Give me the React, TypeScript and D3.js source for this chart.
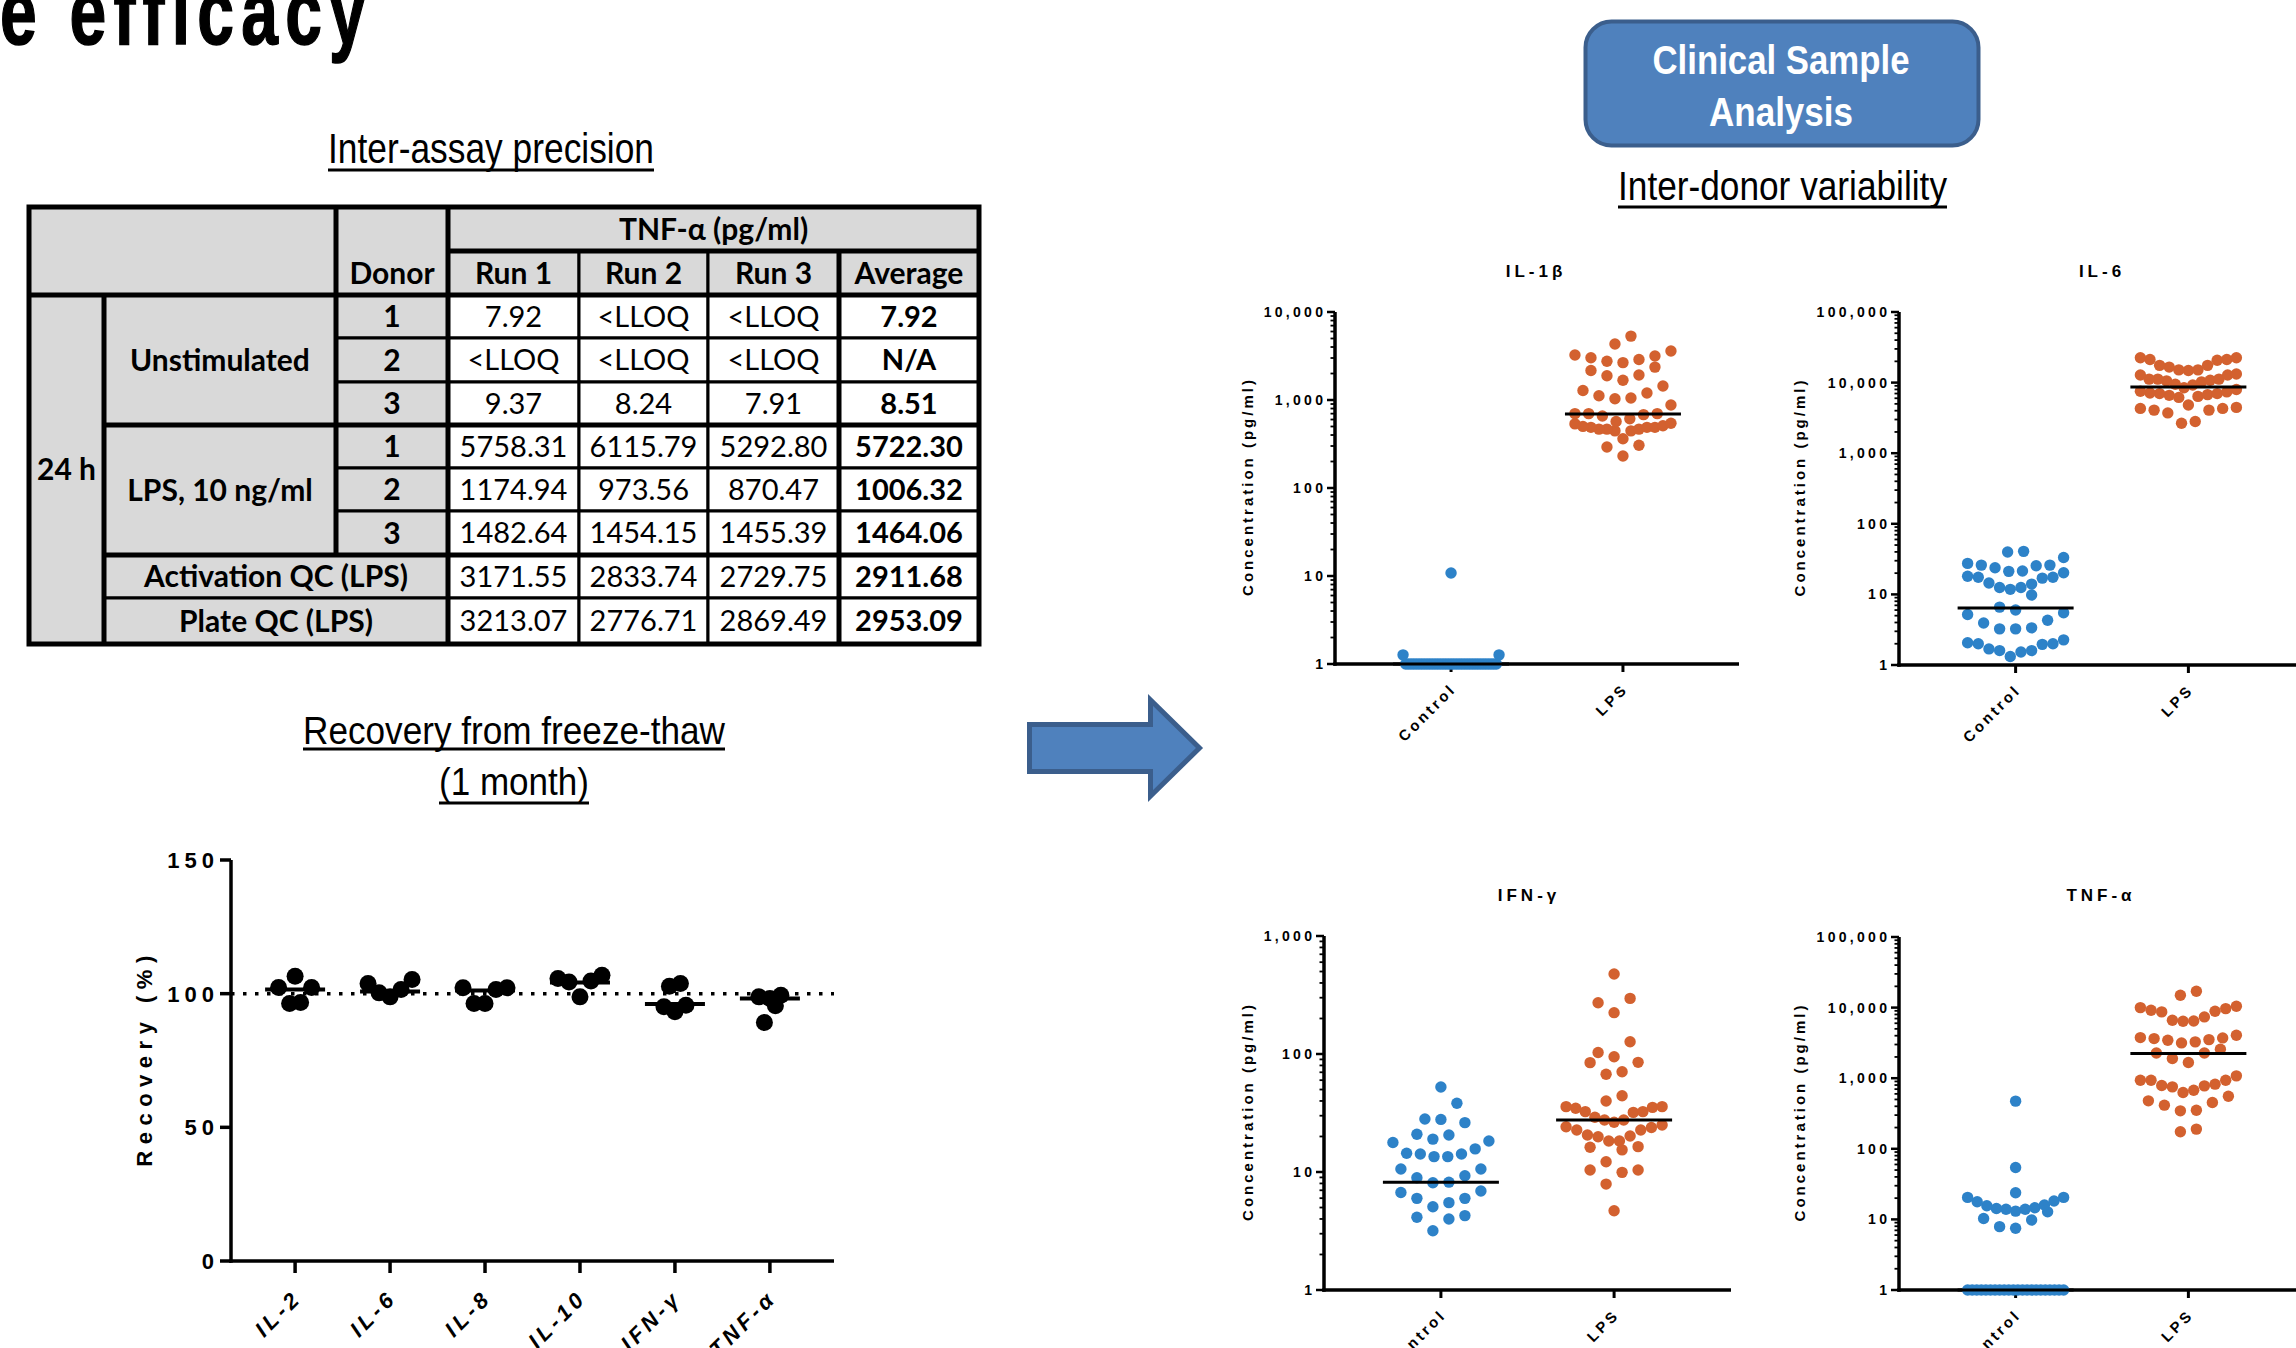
import React from 'react';
import * as d3 from 'd3';

// ---------- Inter-assay precision table ----------
const runHeaders = ['Run 1', 'Run 2', 'Run 3', 'Average'];
const unstimRows = [
  ['1', '7.92', '<LLOQ', '<LLOQ', '7.92'],
  ['2', '<LLOQ', '<LLOQ', '<LLOQ', 'N/A'],
  ['3', '9.37', '8.24', '7.91', '8.51'],
];
const lpsRows = [
  ['1', '5758.31', '6115.79', '5292.80', '5722.30'],
  ['2', '1174.94', '973.56', '870.47', '1006.32'],
  ['3', '1482.64', '1454.15', '1455.39', '1464.06'],
];
const qcRows = [
  ['Activation QC (LPS)', '3171.55', '2833.74', '2729.75', '2911.68'],
  ['Plate QC (LPS)', '3213.07', '2776.71', '2869.49', '2953.09'],
];

// ---------- Recovery from freeze-thaw ----------
const recoveryCytokines = ['IL-2', 'IL-6', 'IL-8', 'IL-10', 'IFN-γ', 'TNF-α'];
const recoveryValues = [
  [106.5, 102.3, 102.3, 96.3, 96.7],
  [105.3, 101.6, 98.8, 100.3, 103.8],
  [102.2, 101.6, 96.3, 96.3, 102.2],
  [106.9, 104.7, 98.8, 104.4, 105.7],
  [103.8, 102.8, 95.7, 93.2, 95.1],
  [98.2, 99.4, 89.2, 98.8, 95.5],
];
const recoveryMedians = [101.6, 100.8, 101.2, 104.2, 96.1, 98.2];
const recoveryTicks = [0, 50, 100, 150];

// ---------- Inter-donor variability ----------
const groups = ['Control', 'LPS'];

const il1bControl = [10.8, 1.27, 1.27,
  1, 1, 1, 1, 1, 1, 1, 1, 1, 1, 1, 1, 1, 1, 1, 1, 1, 1, 1, 1, 1, 1, 1, 1, 1, 1, 1, 1, 1, 1, 1, 1, 1, 1, 1];
const il1bLps = [5320, 4325, 3610, 3157, 2884, 2660, 2755, 3016, 3242, 2365, 2162, 1889, 1923, 1679, 1442,
  1282, 1119, 1032, 1052, 1203, 877, 700, 658, 700, 700, 569, 612, 682, 535, 501, 489, 467, 467, 446, 363,
  446, 467, 489, 489, 510, 544, 306, 292, 231];
const il1bMedians = [1, 694];

const il6Control = [40.7, 39.8, 33.3, 27.5, 26, 26, 25.4, 23.8, 21.5, 21.2, 20.3, 18.1, 17.5, 17.5, 17, 14.5,
  14.0, 12.5, 12.5, 11.8, 9.8, 6.6, 6.0, 5.5, 5.2, 4.3, 3.94, 3.36, 3.25, 3.25, 2.27, 2.07, 2.0, 2.0, 1.96,
  1.69, 1.6, 1.6, 1.53, 1.32];
const il6Lps = [22440, 21230, 17540, 16590, 15150, 14830, 15150, 17540, 20760, 21230, 22440, 12800, 11190,
  11190, 10570, 9460, 8450, 9250, 10230, 10820, 11190, 12800, 13250, 7550, 7380, 6990, 6600, 6170, 6380,
  6750, 6990, 7140, 7980, 4820, 4310, 4075, 3720, 2657, 2810, 4075, 4310, 4455];
const il6Medians = [6.4, 8650];

const ifngControl = [52.5, 38.2, 27.9, 26.2, 28.1, 20.9, 19.0, 20.6, 18.3, 17.8, 15.7, 14.2, 13.5, 13.5, 14.2,
  14.4, 10.6, 10.6, 8.95, 8.1, 8.2, 9.3, 6.9, 6.7, 5.98, 5.5, 5.08, 5.98, 4.13, 4.0, 4.27, 3.18];
const ifngLps = [476, 296, 272, 224, 127, 103, 94.9, 84.5, 85, 67.3, 70.8, 44.3, 40, 35.8, 35.3, 35.8, 34.7,
  32.5, 32.5, 32.0, 29.1, 27.6, 25.0, 26.4, 27.6, 23.8, 22.7, 22.7, 24.2, 20.2, 18.3, 18.3, 19.9, 20.6, 16.2,
  15.4, 16.4, 12.2, 10.4, 9.93, 10.4, 7.9, 4.7];
const ifngMedians = [8.2, 27.6];

const tnfControl = [473, 54.4, 23.8, 20.5, 17.8, 15.6, 14.3, 13.9, 12.8, 13.1, 13.9, 14.6, 16.0, 18.2, 20.5,
  10.3, 9.8, 7.9, 7.5,
  1, 1, 1, 1, 1, 1, 1, 1, 1, 1, 1, 1, 1, 1, 1, 1, 1, 1, 1, 1, 1, 1];
const tnfLps = [17030, 14960, 9170, 8690, 10000, 10440, 8870, 9680, 6620, 6410, 6470, 7380, 3640, 3160, 3450,
  3760, 3270, 4060, 3520, 3720, 2280, 2280, 2570, 1667, 1897, 1079, 937, 937, 787, 754, 627, 676, 779, 823,
  937, 556, 453, 352, 345, 415, 478, 174, 190];
const tnfMedians = [1, 2234];

const BLUE = '#2d82c8';
const ORANGE = '#d3612f';
const GREY = '#d9d9d9';
const SANS = '"Liberation Sans", Arial, Helvetica, sans-serif';
const NARROW = '"Liberation Sans Narrow", "Arial Narrow", "Liberation Sans", Arial, sans-serif';
const TABLE_FONT = 'Lato, Calibri, "Open Sans", sans-serif';

// GraphPad-like scatter-dot layout: points binned into rows from the bottom up,
// lowest values of a row in the middle.
function swarm(values: number[], y: (v: number) => number, cx: number, binH: number, maxStep: number, maxSpan: number) {
  const pts = values.map(v => ({ v, y: y(v), x: cx })).sort((a, b) => b.y - a.y);
  const rows: { v: number; y: number; x: number }[][] = [];
  let start = Infinity;
  pts.forEach(p => {
    if (!rows.length || start - p.y > binH) {
      rows.push([p]);
      start = p.y;
    } else rows[rows.length - 1].push(p);
  });
  rows.forEach(row => {
    const n = row.length;
    const step = n > 1 ? Math.min(maxStep, maxSpan / (n - 1)) : 0;
    const slots = d3.range(n).map(i => (i - (n - 1) / 2) * step)
      .sort((a, b) => Math.abs(a) - Math.abs(b) || a - b);
    row.forEach((p, i) => { p.x = cx + slots[i]; });
  });
  return pts;
}

const UText = ({ x, y, w, size, text, uy, weight = 'normal', fill = '#000' }: any) => (
  <g>
    <text x={x} y={y} textAnchor="middle" fontFamily={NARROW} fontSize={size} fontWeight={weight} fill={fill}
      textLength={w} lengthAdjust="spacingAndGlyphs">{text}</text>
    {uy != null && <line x1={x - w / 2} x2={x + w / 2} y1={uy} y2={uy} stroke="#000" strokeWidth={3} />}
  </g>
);

function PrecisionTable() {
  const xs = [29, 104, 336, 448, 579, 708, 839, 979];
  const ys = [207, 251, 295, 338, 382, 425, 468, 511, 555, 598, 644];
  const cells: any[] = [];
  cells.push({ c0: 0, c1: 2, r0: 0, r1: 2, fill: GREY, text: '' });
  cells.push({ c0: 2, c1: 3, r0: 0, r1: 2, fill: GREY, text: 'Donor', bold: true, textRow: 1 });
  cells.push({ c0: 3, c1: 7, r0: 0, r1: 1, fill: GREY, text: 'TNF-α (pg/ml)', bold: true });
  runHeaders.forEach((h, i) => cells.push({ c0: 3 + i, c1: 4 + i, r0: 1, r1: 2, fill: GREY, text: h, bold: true }));
  cells.push({ c0: 0, c1: 1, r0: 2, r1: 10, fill: GREY, text: '24 h', bold: true });
  cells.push({ c0: 1, c1: 2, r0: 2, r1: 5, fill: GREY, text: 'Unstimulated', bold: true });
  cells.push({ c0: 1, c1: 2, r0: 5, r1: 8, fill: GREY, text: 'LPS, 10 ng/ml', bold: true });
  [unstimRows, lpsRows].forEach((grp, g) => grp.forEach((row, i) => {
    const r = 2 + g * 3 + i;
    cells.push({ c0: 2, c1: 3, r0: r, r1: r + 1, fill: GREY, text: row[0], bold: true });
    row.slice(1).forEach((t, j) => cells.push({ c0: 3 + j, c1: 4 + j, r0: r, r1: r + 1, fill: '#fff', text: t, bold: j === 3, data: true }));
  }));
  qcRows.forEach((row, i) => {
    const r = 8 + i;
    cells.push({ c0: 1, c1: 3, r0: r, r1: r + 1, fill: GREY, text: row[0], bold: true });
    row.slice(1).forEach((t, j) => cells.push({ c0: 3 + j, c1: 4 + j, r0: r, r1: r + 1, fill: '#fff', text: t, bold: j === 3, data: true }));
  });

  const thick: number[][] = [
    [xs[1], ys[2], xs[1], ys[10]],
    [xs[2], ys[0], xs[2], ys[8]],
    [xs[3], ys[0], xs[3], ys[10]],
    [xs[6], ys[1], xs[6], ys[10]],
    [xs[0], ys[2], xs[7], ys[2]],
    [xs[1], ys[5], xs[7], ys[5]],
    [xs[1], ys[8], xs[7], ys[8]],
    [xs[3], ys[1], xs[7], ys[1]],
  ];

  return (
    <g>
      {cells.map((c, i) => (
        <rect key={'r' + i} x={xs[c.c0]} y={ys[c.r0]} width={xs[c.c1] - xs[c.c0]} height={ys[c.r1] - ys[c.r0]}
          fill={c.fill} stroke="#000" strokeWidth={3} />
      ))}
      {thick.map((l, i) => (
        <line key={'t' + i} x1={l[0]} y1={l[1]} x2={l[2]} y2={l[3]} stroke="#000" strokeWidth={5} />
      ))}
      <rect x={xs[0]} y={ys[0]} width={xs[7] - xs[0]} height={ys[10] - ys[0]} fill="none" stroke="#000" strokeWidth={5} />
      {cells.filter(c => c.text).map((c, i) => {
        const cy = c.textRow != null ? (ys[c.textRow] + ys[c.textRow + 1]) / 2 : (ys[c.r0] + ys[c.r1]) / 2;
        return (
          <text key={'x' + i} x={(xs[c.c0] + xs[c.c1]) / 2} y={cy} dy="0.36em" textAnchor="middle"
            fontFamily={TABLE_FONT} fontSize={c.data ? 29 : 30} fontWeight={c.bold ? 'bold' : 'normal'} fill="#000">
            {c.text}
          </text>
        );
      })}
    </g>
  );
}

function RecoveryChart() {
  const axisX = 231, axisEnd = 834, yBottom = 1261, yTop = 860;
  const y = d3.scaleLinear().domain([0, 150]).range([yBottom, yTop]);
  const x = d3.scalePoint<string>().domain(recoveryCytokines).range([axisX, axisEnd]).padding(0.675);
  const ls = 5;
  return (
    <g>
      <line x1={axisX} x2={axisEnd} y1={y(100)} y2={y(100)} stroke="#000" strokeWidth={3.5} strokeDasharray="3.5 8.5" />
      <line x1={axisX} x2={axisX} y1={y(150)} y2={yBottom + 1.75} stroke="#000" strokeWidth={3.5} />
      <line x1={axisX - 1.75} x2={axisEnd} y1={yBottom} y2={yBottom} stroke="#000" strokeWidth={3.5} />
      {recoveryTicks.map(t => (
        <g key={t}>
          <line x1={axisX - 11} x2={axisX} y1={y(t)} y2={y(t)} stroke="#000" strokeWidth={3.5} />
          <text x={axisX - 17 + ls} y={y(t)} dy="0.36em" textAnchor="end" fontFamily={SANS} fontWeight="bold"
            fontSize={22} letterSpacing={ls}>{t}</text>
        </g>
      ))}
      <text transform={`translate(144,1061) rotate(-90)`} dx={3} dy="0.36em" textAnchor="middle" fontFamily={SANS}
        fontWeight="bold" fontSize={22} letterSpacing={6.5}>Recovery (%)</text>
      {recoveryCytokines.map((c, i) => {
        const cx = x(c)!;
        const pts = swarm(recoveryValues[i], y, cx, 22, 11, 44);
        return (
          <g key={c}>
            <line x1={cx} x2={cx} y1={yBottom} y2={yBottom + 12} stroke="#000" strokeWidth={3.5} />
            <text transform={`translate(${cx + 5 + 0.707 * 4},${yBottom + 41 - 0.707 * 4}) rotate(-45)`} textAnchor="end"
              fontFamily={SANS} fontWeight="bold" fontStyle="italic" fontSize={22} letterSpacing={4}>{c}</text>
            {pts.map((p, j) => <circle key={j} cx={p.x} cy={p.y} r={8.5} fill="#000" />)}
            <line x1={cx - 30} x2={cx + 30} y1={y(recoveryMedians[i])} y2={y(recoveryMedians[i])} stroke="#000" strokeWidth={4} />
          </g>
        );
      })}
    </g>
  );
}

const panels = [
  { title: 'IL-1β', control: il1bControl, lps: il1bLps, medians: il1bMedians, top: 10000,
    axisX: 1335, axisEnd: 1739, yBottom: 664, yTop: 312, titleX: 1534, titleY: 271, yLabelX: 1248 },
  { title: 'IL-6', control: il6Control, lps: il6Lps, medians: il6Medians, top: 100000,
    axisX: 1899, axisEnd: 2305, yBottom: 665, yTop: 312, titleX: 2100, titleY: 271, yLabelX: 1800 },
  { title: 'IFN-γ', control: ifngControl, lps: ifngLps, medians: ifngMedians, top: 1000,
    axisX: 1324, axisEnd: 1731, yBottom: 1290, yTop: 936, titleX: 1527, titleY: 895, yLabelX: 1248 },
  { title: 'TNF-α', control: tnfControl, lps: tnfLps, medians: tnfMedians, top: 100000,
    axisX: 1899, axisEnd: 2305, yBottom: 1290, yTop: 937, titleX: 2099, titleY: 895, yLabelX: 1800 },
];

function DotPanel(p: any) {
  const y = d3.scaleLog().domain([1, p.top]).range([p.yBottom, p.yTop]);
  const x = d3.scalePoint<string>().domain(groups).range([p.axisX, p.axisEnd]).padding(0.675);
  const ticks = y.ticks();
  const isMajor = (t: number) => Math.abs(Math.log10(t) - Math.round(Math.log10(t))) < 1e-9;
  const fmt = d3.format(',');
  const sets = [p.control, p.lps];
  const colors = [BLUE, ORANGE];
  const ls = 3.3;
  return (
    <g>
      <text x={p.titleX + 2} y={p.titleY} dy="0.36em" textAnchor="middle" fontFamily={SANS} fontWeight="bold"
        fontSize={17} letterSpacing={4}>{p.title}</text>
      <line x1={p.axisX} x2={p.axisX} y1={p.yTop} y2={p.yBottom + 1.75} stroke="#000" strokeWidth={3.5} />
      <line x1={p.axisX - 1.75} x2={p.axisEnd} y1={p.yBottom} y2={p.yBottom} stroke="#000" strokeWidth={3.5} />
      {ticks.map((t, i) => (
        <line key={i} x1={p.axisX - (isMajor(t) ? 8 : 4.5)} x2={p.axisX} y1={y(t)} y2={y(t)} stroke="#000"
          strokeWidth={isMajor(t) ? 2.5 : 1.8} />
      ))}
      {ticks.filter(isMajor).map((t, i) => (
        <text key={i} x={p.axisX - 12 + ls} y={y(t)} dy="0.36em" textAnchor="end" fontFamily={SANS} fontWeight="bold"
          fontSize={14} letterSpacing={ls}>{fmt(t)}</text>
      ))}
      <text transform={`translate(${p.yLabelX},${(p.yTop + p.yBottom) / 2}) rotate(-90)`} dx={1.5} dy="0.36em"
        textAnchor="middle" fontFamily={SANS} fontWeight="bold" fontSize={15} letterSpacing={3}>Concentration (pg/ml)</text>
      {groups.map(g => {
        const cx = x(g)!;
        return (
          <g key={g}>
            <line x1={cx} x2={cx} y1={p.yBottom} y2={p.yBottom + 8} stroke="#000" strokeWidth={3} />
            <text transform={`translate(${cx + 4 + 0.707 * 3},${p.yBottom + 28 - 0.707 * 3}) rotate(-45)`} textAnchor="end"
              fontFamily={SANS} fontWeight="bold" fontSize={15} letterSpacing={3}>{g}</text>
          </g>
        );
      })}
      {groups.map((g, gi) => {
        const cx = x(g)!;
        const pts = swarm(sets[gi], y, cx, 17, 16, 96);
        return (
          <g key={g + 'p'}>
            {pts.map((d, j) => <circle key={j} cx={d.x} cy={d.y} r={5.7} fill={colors[gi]} />)}
            <line x1={cx - 58} x2={cx + 58} y1={y(p.medians[gi])} y2={y(p.medians[gi])} stroke="#000" strokeWidth={3} />
          </g>
        );
      })}
    </g>
  );
}

export default function App() {
  const arrow = [[1029.5, 724.5], [1150.5, 724.5], [1150.5, 700], [1199.5, 748], [1150.5, 796], [1150.5, 771.5], [1029.5, 771.5]];
  return (
    <div style={{ position: 'fixed', left: 0, top: 0, width: 2296, height: 1348, overflow: 'hidden', background: '#fff' }}>
      <svg width={2296} height={1348} style={{ display: 'block' }}>
        <rect width={2296} height={1348} fill="#fff" />
        <text x={0} y={44} fontFamily={SANS} fontWeight="bold" fontSize={92} letterSpacing={10} stroke="#000" strokeWidth={1.5}
          textLength={373} lengthAdjust="spacingAndGlyphs">e efficacy</text>

        <UText x={491} y={163} w={326} size={42} text="Inter-assay precision" uy={170} />
        <PrecisionTable />

        <UText x={514} y={744} w={422} size={39} text="Recovery from freeze-thaw" uy={749} />
        <UText x={514} y={795} w={150} size={39} text="(1 month)" uy={803} />
        <RecoveryChart />

        <path d={d3.line()(arrow as [number, number][]) + 'Z'} fill="#4f81bd" stroke="#3b5e8c" strokeWidth={5} strokeLinejoin="miter" />

        <rect x={1585.5} y={21.5} width={393} height={124} rx={26} fill="#4f81bd" stroke="#3b5e8c" strokeWidth={4} />
        <UText x={1781} y={74} w={257} size={41} weight="bold" fill="#fff" text="Clinical Sample" />
        <UText x={1781} y={126} w={144} size={41} weight="bold" fill="#fff" text="Analysis" />
        <UText x={1782.5} y={200} w={329} size={40} text="Inter-donor variability" uy={207} />

        {panels.map(p => <DotPanel key={p.title} {...p} />)}
      </svg>
    </div>
  );
}
